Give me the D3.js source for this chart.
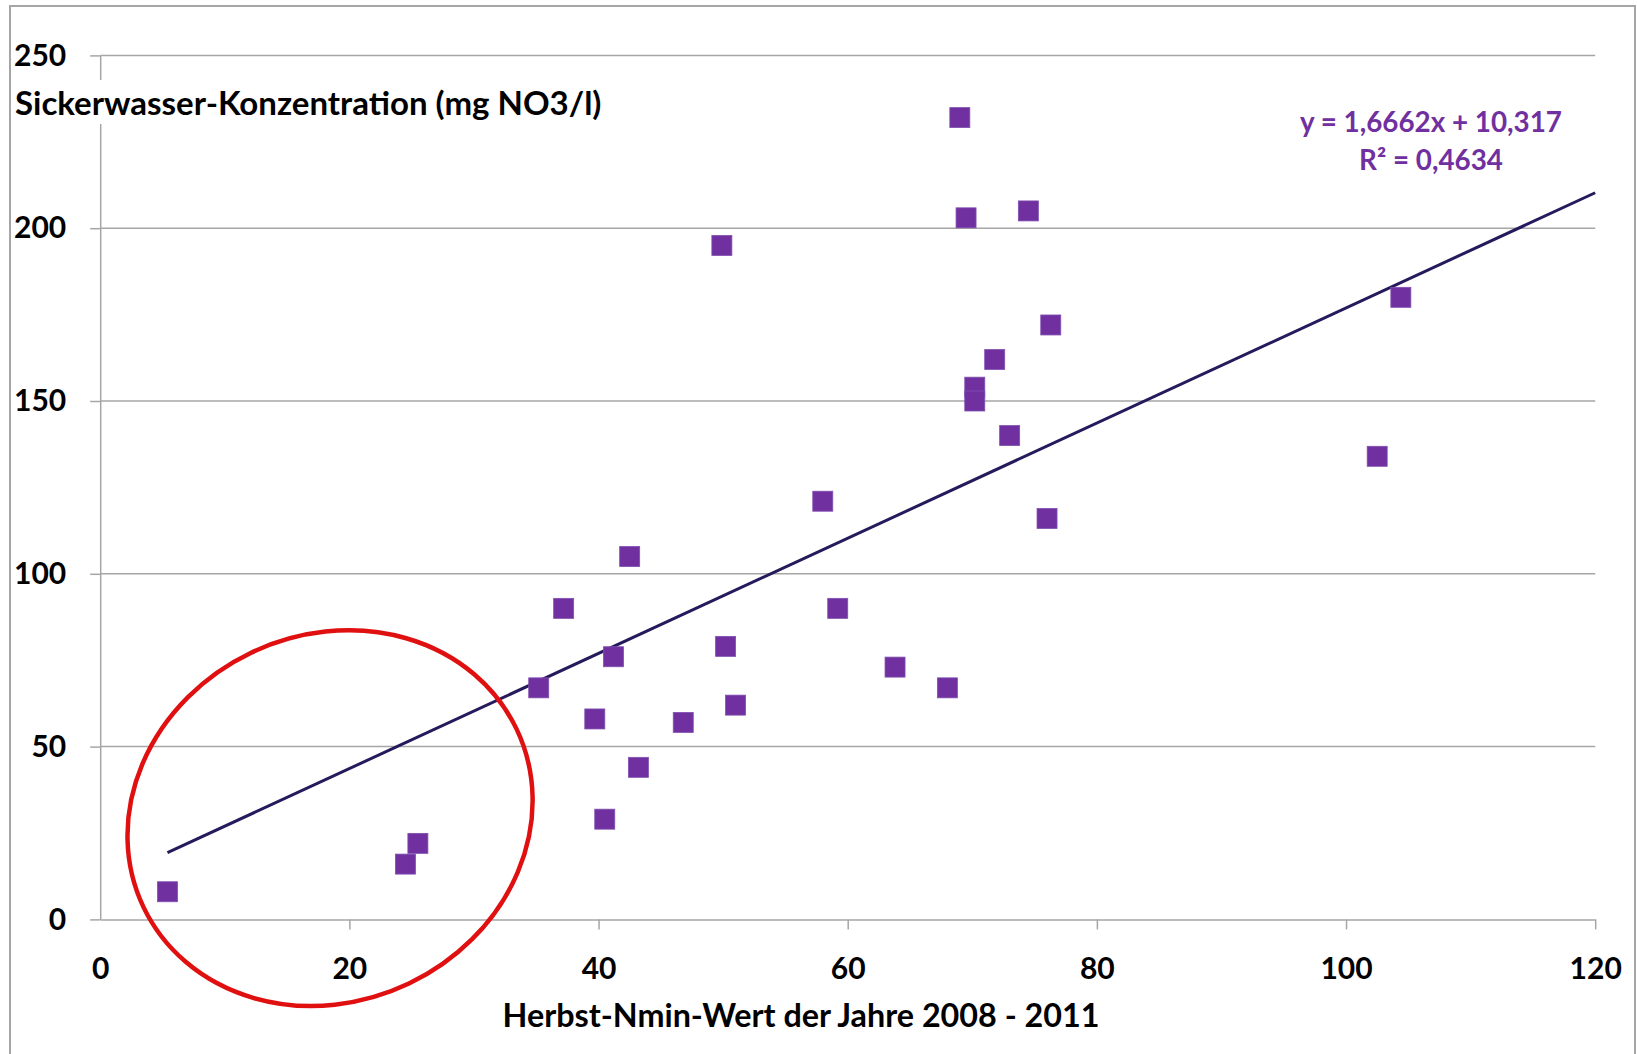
<!DOCTYPE html>
<html>
<head>
<meta charset="utf-8">
<script src="https://cdn.jsdelivr.net/npm/d3@7"></script>
<style>
  body { margin: 0; background: #fff; }
  text { font-family: Lato, "Open Sans", sans-serif; font-weight: bold; }
</style>
</head>
<body>
<div id="chart"></div>
<script>
// x: Herbst-Nmin-Wert, y: Sickerwasser-Konzentration
var nminValues = [5.4, 24.5, 25.5, 35.2, 37.2, 39.7, 40.5, 41.2, 42.5, 43.2, 46.8, 49.9, 50.2, 51.0,
                  58.0, 59.2, 63.8, 68.0, 69.0, 69.5, 70.2, 70.2, 71.8, 73.0, 74.5, 76.0, 76.3, 102.5, 104.4];
var concValues = [8, 16, 22, 67, 90, 58, 29, 76, 105, 44, 57, 195, 79, 62,
                  121, 90, 73, 67, 232, 203, 154, 150, 162, 140, 205, 116, 172, 134, 180];
var xTicks = [0, 20, 40, 60, 80, 100, 120];
var yTicks = [0, 50, 100, 150, 200, 250];
var trendSlope = 1.6662;
var trendIntercept = 10.317;
var equationLines = ['y = 1,6662x + 10,317', 'R² = 0,4634'];
var xTitle = 'Herbst-Nmin-Wert der Jahre 2008 - 2011';
var yTitle = 'Sickerwasser-Konzentration (mg NO3/l)';
// red hand-drawn ring around the low values (centre in data units)
var ringCenter = [18.45, 29.3];

var width = 1637, height = 1054;
var margins = {left: 100.2, right: 41.8, top: 55.4, bottom: 134.6};
var purple = '#7030a0';

var svg = d3.select('#chart').append('svg')
            .attr('width', width)
            .attr('height', height);

// outer frame
svg.append('rect')
   .attr('x', 10).attr('y', 6)
   .attr('width', 1625).attr('height', 1060)
   .attr('fill', 'none')
   .attr('stroke', '#a6a6a6')
   .attr('stroke-width', 2);

var x = d3.scaleLinear().domain([0, 120]).range([margins.left, width - margins.right]);
var y = d3.scaleLinear().domain([0, 250]).range([height - margins.bottom, margins.top]);

// horizontal gridlines
svg.append('g').attr('class', 'grid')
   .selectAll('line').data(yTicks.slice(1))
   .enter().append('line')
   .attr('x1', x(0)).attr('x2', x(120))
   .attr('y1', function(d) { return y(d); })
   .attr('y2', function(d) { return y(d); })
   .attr('stroke', '#a6a6a6')
   .attr('stroke-width', 1.5);

var yAxis = d3.axisLeft(y).tickValues(yTicks).tickSizeInner(10).tickSizeOuter(0);
var xAxis = d3.axisBottom(x).tickValues(xTicks).tickSizeInner(10).tickSizeOuter(0).tickPadding(28);

var yG = svg.append('g').attr('transform', 'translate(' + x(0) + ',0)').call(yAxis);
var xG = svg.append('g').attr('transform', 'translate(0,' + y(0) + ')').call(xAxis);

[xG, yG].forEach(function(g) {
  g.select('.domain').attr('stroke', '#a6a6a6').attr('stroke-width', 1.5);
  g.selectAll('.tick line').attr('stroke', '#a6a6a6').attr('stroke-width', 1.5);
  g.selectAll('.tick text')
   .attr('fill', '#000')
   .style('font-family', 'Lato, sans-serif')
   .style('font-weight', 'bold')
   .style('font-size', '30px');
});
xG.selectAll('.tick line').filter(function(d) { return d === 0; }).remove();
yG.selectAll('.tick text').attr('x', -34).attr('text-anchor', 'end');

// y axis title sits on a white patch that breaks the axis line
var yt = svg.append('g');
var ytText = yt.append('text')
   .attr('x', 15).attr('y', 115)
   .attr('font-size', '33px')
   .attr('fill', '#000')
   .text(yTitle);
var bb = ytText.node().getBBox();
yt.insert('rect', 'text')
  .attr('x', bb.x - 2).attr('y', bb.y - 2)
  .attr('width', bb.width + 4).attr('height', bb.height + 4)
  .attr('fill', '#fff');

svg.append('text')
   .attr('x', 801).attr('y', 1027)
   .attr('text-anchor', 'middle')
   .attr('font-size', '32.3px')
   .attr('fill', '#000')
   .text(xTitle);

// trend line
var xMin = d3.min(nminValues);
svg.append('line')
   .attr('x1', x(xMin)).attr('y1', y(trendSlope * xMin + trendIntercept))
   .attr('x2', x(120)).attr('y2', y(trendSlope * 120 + trendIntercept))
   .attr('stroke', '#261a5c')
   .attr('stroke-width', 3);

// markers
var size = 20;
svg.append('g').selectAll('rect')
   .data(nminValues.map(function(v, i) { return [v, concValues[i]]; }))
   .enter().append('rect')
   .attr('x', function(d) { return x(d[0]) - size / 2; })
   .attr('y', function(d) { return y(d[1]) - size / 2; })
   .attr('width', size).attr('height', size)
   .attr('fill', purple)
   .attr('stroke', '#8050b0')
   .attr('stroke-width', 0.8);

// equation label
svg.append('g').selectAll('text').data(equationLines)
   .enter().append('text')
   .attr('x', 1431)
   .attr('y', function(d, i) { return 132 + i * 38; })
   .attr('text-anchor', 'middle')
   .attr('font-size', '27.8px')
   .attr('fill', purple)
   .text(function(d) { return d; });

// ring
svg.append('ellipse')
   .attr('cx', 0).attr('cy', 0)
   .attr('rx', 206.7).attr('ry', 183.3)
   .attr('transform', 'translate(' + x(ringCenter[0]) + ',' + y(ringCenter[1]) + ') rotate(-25.5)')
   .attr('fill', 'none')
   .attr('stroke', '#e01010')
   .attr('stroke-width', 4.5);
</script>
</body>
</html>
